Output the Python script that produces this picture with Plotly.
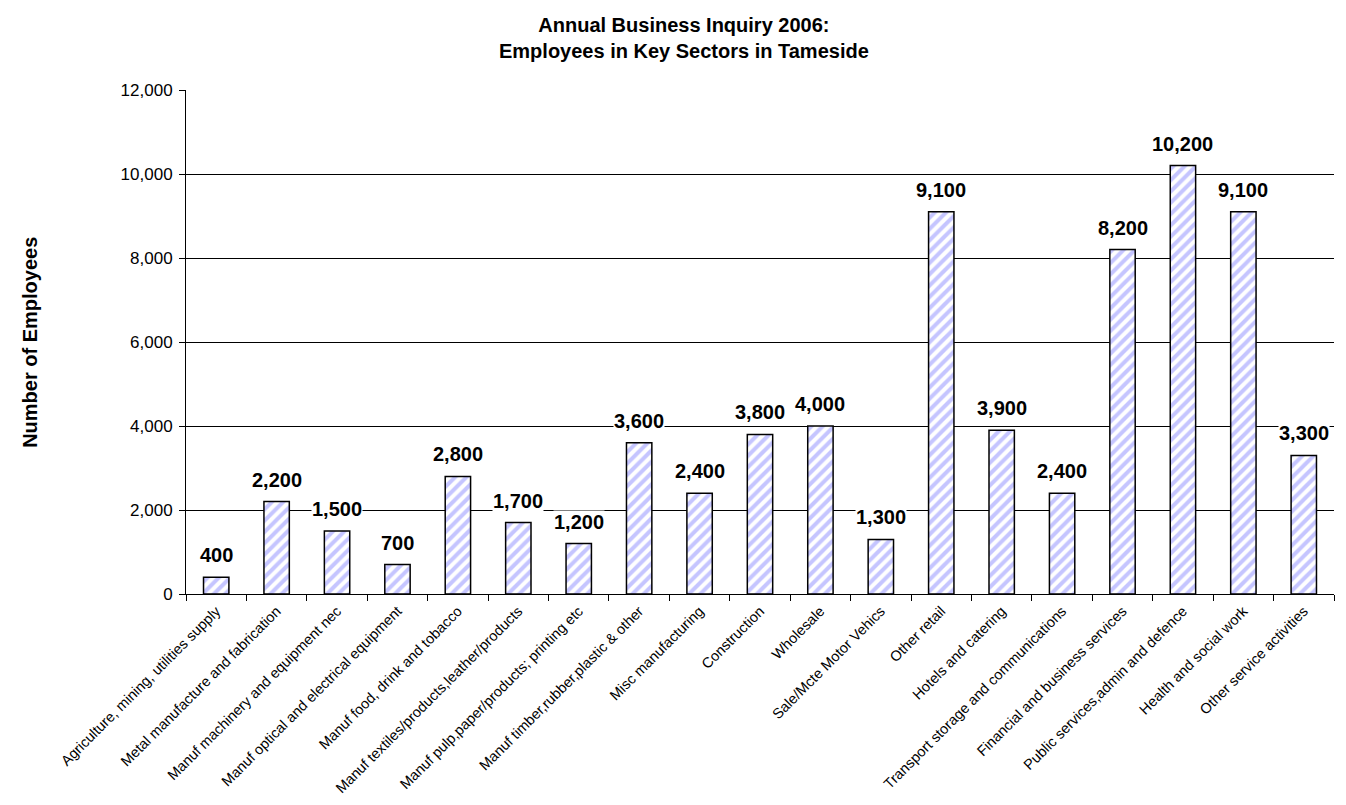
import plotly.graph_objects as go

categories = [
    "Agriculture, mining, utilities supply",
    "Metal manufacture and fabrication",
    "Manuf machinery and equipment nec",
    "Manuf optical and electrical equipment",
    "Manuf food, drink and tobacco",
    "Manuf textiles/products,leather/products",
    "Manuf pulp,paper/products; printing etc",
    "Manuf timber,rubber,plastic & other",
    "Misc manufacturing",
    "Construction",
    "Wholesale",
    "Sale/Mcte Motor Vehics",
    "Other retail",
    "Hotels and catering",
    "Transport storage and communications",
    "Financial and business services",
    "Public services,admin and defence",
    "Health and social work",
    "Other service activities",
]
employees = [400, 2200, 1500, 700, 2800, 1700, 1200, 3600, 2400, 3800,
             4000, 1300, 9100, 3900, 2400, 8200, 10200, 9100, 3300]
y_ticks = [0, 2000, 4000, 6000, 8000, 10000, 12000]

FONT = "Liberation Sans, Arial, sans-serif"

fig = go.Figure()
fig.add_trace(go.Bar(
    x=categories, y=employees,
    marker=dict(
        color="white",
        line=dict(color="black", width=1.5),
        pattern=dict(shape="/", fgcolor="#8C8CFF", bgcolor="white",
                     size=8, solidity=0.5, fillmode="overlay"),
    ),
    hoverinfo="x+y",
))

for c, v in zip(categories, employees):
    fig.add_annotation(
        x=c, y=v, text=f"<b>{v:,}</b>", showarrow=False,
        yanchor="bottom", yshift=10, bgcolor="white",
        font=dict(family=FONT, size=20, color="black"),
        borderpad=0,
    )

# chart title
fig.add_annotation(
    xref="paper", yref="paper", x=0.4338, y=1.155,
    xanchor="center", yanchor="top", showarrow=False,
    text="<b>Annual Business Inquiry 2006:<br>Employees in Key Sectors in Tameside</b>",
    font=dict(family=FONT, size=20, color="black"),
)
# y axis title
fig.add_annotation(
    xref="paper", yref="paper", x=-0.136, y=0.5,
    xanchor="center", yanchor="middle", showarrow=False, textangle=-90,
    text="<b>Number of Employees</b>",
    font=dict(family=FONT, size=20, color="black"),
)

fig.update_layout(
    width=1346, height=805,
    margin=dict(l=186, r=12, t=90, b=211, autoexpand=False),
    paper_bgcolor="white", plot_bgcolor="white",
    bargap=0.58,
    showlegend=False,
    font=dict(family=FONT, color="black"),
    xaxis=dict(
        type="category", tickangle=-45, tickson="boundaries",
        ticks="outside", ticklen=6, tickcolor="black",
        showline=True, linecolor="black", linewidth=1,
        showgrid=False, automargin=False, ticklabelstandoff=2,
        tickfont=dict(family=FONT, size=14.5, color="black"),
    ),
    yaxis=dict(
        range=[0, 12000], tickvals=y_ticks, tickformat=",",
        ticks="outside", ticklen=6, tickcolor="black",
        showline=True, linecolor="black", linewidth=1,
        showgrid=True, gridcolor="black", gridwidth=1,
        zeroline=False, automargin=False, ticklabelstandoff=3,
        tickfont=dict(family=FONT, size=17, color="black"),
    ),
)

fig.write_html("out.html")
